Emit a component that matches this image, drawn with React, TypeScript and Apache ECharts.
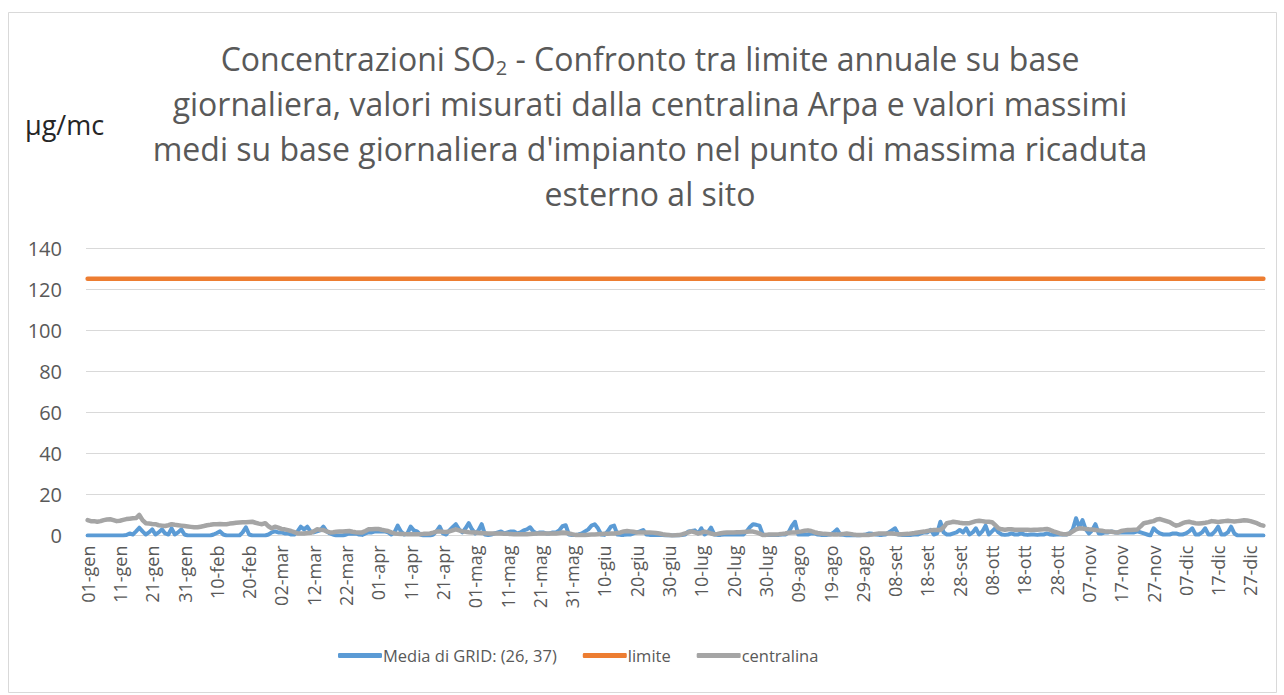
import React, { useEffect, useRef } from "react";
import * as echarts from "echarts";

const monthNames = ["gen", "feb", "mar", "apr", "mag", "giu", "lug", "ago", "set", "ott", "nov", "dic"];
const monthDays = [31, 28, 31, 30, 31, 30, 31, 31, 30, 31, 30, 31];

const seriesNames = ["Media di GRID: (26, 37)", "limite", "centralina"];
const limitValue = 125;
const yTicks = [0, 20, 40, 60, 80, 100, 120, 140];

const titleLines = [
  "giornaliera, valori misurati dalla centralina Arpa e valori massimi",
  "medi su base giornaliera d'impianto nel punto di massima ricaduta",
  "esterno al sito",
];

const grid = [
  0, 0, 0, 0, 0, 0, 0, 0, 0, 0,
  0, 0, 0.2, 1, 0.5, 2, 3.8, 2, 0.5, 1.5,
  3, 0.5, 1.5, 3, 1, 0.5, 3.5, 0.5, 1.5, 3,
  0.5, 0, 0, 0, 0, 0, 0, 0, 0, 0.5,
  1.2, 2, 0.5, 0, 0, 0, 0, 0, 1.5, 4,
  0.5, 0, 0, 0, 0, 0, 0.5, 1.5, 2, 1.5,
  1.5, 1, 1, 0.5, 0.5, 2, 4.3, 3, 4.3, 2,
  1.5, 2, 2.5, 4.3, 2, 1, 0.5, 0, 0, 0,
  0.5, 1, 0.8, 1, 0.5, 0.3, 1, 1.5, 1.5, 2,
  2, 2, 2, 1.5, 0.5, 1.5, 4.8, 2, 0.5, 1,
  4.3, 2.5, 2, 0.5, 0, 0, 0, 0.5, 2, 4.3,
  1, 0.5, 2.5, 4, 5.5, 3, 1.5, 3.5, 6, 3,
  1, 2.5, 5.5, 0.5, 0.2, 0.5, 1, 1.5, 2, 1,
  1.5, 2, 2, 1, 1.5, 2.5, 3, 4, 2, 1,
  1.5, 1.5, 1, 1, 1.5, 1.5, 2.5, 4.5, 5, 0.5,
  0.2, 0.2, 0.5, 1, 2, 3, 4.8, 5.5, 3.5, 0.5,
  0.3, 2, 4.3, 4.8, 0.5, 0.3, 0.3, 0.5, 0.5, 1,
  1.5, 2, 2.7, 0.5, 0.3, 0.2, 0.2, 0.2, 0.2, 0,
  0, 0, 0, 0, 0.2, 0.5, 2, 2.2, 2.5, 1,
  3.5, 0.5, 1.5, 3.8, 0.5, 0.3, 0.3, 0.5, 0.5, 0.5,
  0.5, 0.5, 0.5, 0.5, 2, 4, 5.5, 5.2, 4.8, 0.5,
  0.3, 0.3, 0.3, 0.3, 0.3, 0.5, 0.5, 1.5, 4.5, 6.7,
  0.5, 0.5, 0.5, 0.5, 1, 1, 0.5, 0.3, 0.3, 0.3,
  0.5, 1.5, 3, 0.5, 0.3, 0, 0, 0, 0, 0,
  0.3, 0.5, 1, 0.8, 0.5, 0.3, 0.3, 0.5, 1.5, 2.5,
  3.5, 0.5, 0.3, 0.2, 0.2, 0.3, 0.5, 0.5, 1, 1.5,
  1.5, 2.7, 0.5, 1, 6.7, 1.5, 0.5, 0.5, 1, 1.5,
  2.7, 1.5, 3.5, 0.5, 1.5, 3.5, 0.5, 2, 4.8, 0.5,
  2, 3.5, 1.5, 0.5, 0.3, 0.5, 1, 0.5, 0.5, 1,
  0.5, 0.3, 0.5, 0.5, 0.3, 0.5, 0.5, 1, 0.5, 0.3,
  0.5, 0.5, 0.5, 0.5, 1, 3, 8.4, 4, 7.5, 3,
  1, 2.5, 5.5, 1, 1, 1.5, 1.5, 2, 1.5, 1.5,
  1.5, 1.5, 1.5, 1.5, 1.5, 2, 1.5, 1, 0.5, 0,
  3.5, 2, 1, 0.5, 0.5, 0.5, 1, 1, 0.5, 0.5,
  1, 2, 3.5, 0.5, 0.5, 1.5, 3.5, 0.5, 0.5, 2,
  4.3, 0.5, 0.5, 1.5, 4.3, 1, 0, 0, 0, 0,
  0, 0, 0, 0, 0,
];

const centralina = [
  7.5, 7, 7, 6.7, 7, 7.5, 7.8, 7.9, 7.5, 7,
  7.2, 7.6, 8, 8.2, 8.4, 8.5, 10, 7.5, 6, 5.8,
  5.6, 5.5, 5, 4.8, 4.6, 5, 5.5, 5.2, 5, 4.8,
  4.6, 4.4, 4.2, 4, 4, 4.3, 4.6, 5, 5.2, 5.5,
  5.5, 5.6, 5.5, 5.5, 5.8, 6, 6.2, 6.3, 6.4, 6.5,
  6.6, 6.7, 6.2, 5.8, 5.5, 6, 4.5, 3.5, 4.3, 3.8,
  3.2, 3, 2.6, 2.2, 1.6, 1, 1, 1, 1.2, 1.3,
  2, 3, 2.8, 2.7, 2, 1.5, 1.6, 1.8, 1.9, 2,
  2.1, 2.2, 1.8, 1.6, 1.5, 1.5, 2.2, 3, 3.1, 3.2,
  3.2, 2.8, 2.5, 2.2, 1.5, 1, 0.8, 0.7, 0.7, 0.6,
  0.6, 0.6, 0.6, 0.6, 0.8, 0.9, 1, 1.4, 1.9, 2,
  1.8, 1.7, 2, 2.5, 3, 2.5, 2, 1.8, 1.6, 1.5,
  1.5, 1.3, 1.2, 1.1, 1, 1, 1, 1, 1, 0.9,
  0.8, 0.7, 0.6, 0.6, 0.6, 0.6, 0.6, 0.7, 0.8, 1,
  1, 1, 1, 1, 1, 1, 1.2, 1.5, 1.3, 1,
  0.6, 0.3, 0.2, 0.2, 0.3, 0.4, 0.5, 0.5, 0.6, 0.7,
  0.8, 0.8, 1, 1, 1.2, 1.5, 2, 2.2, 2, 1.8,
  1.5, 1.5, 1.5, 1.5, 1.5, 1.4, 1.2, 1, 0.6, 0.4,
  0.2, 0, 0.1, 0.2, 0.5, 1, 1.5, 2, 1.5, 1,
  1.4, 1.9, 1.5, 1, 0.6, 0.8, 1.1, 1.3, 1.5, 1.5,
  1.5, 1.6, 1.6, 1.7, 1.8, 1.9, 1.9, 1.5, 1, 0.2,
  0.3, 0.5, 0.5, 0.5, 0.6, 0.8, 1, 1.3, 1.5, 1.5,
  1.8, 2, 2.3, 2.5, 2.2, 1.6, 1.2, 1, 0.8, 0.7,
  0.6, 0.5, 0.5, 0.6, 0.8, 1, 0.8, 0.5, 0.3, 0.2,
  0.2, 0.2, 0.3, 0.5, 0.8, 1, 1, 1, 1, 1,
  0.8, 0.6, 0.6, 0.7, 0.8, 1, 1.2, 1.5, 1.7, 1.9,
  2.2, 2.5, 2.7, 2.7, 2.7, 4, 6, 6.3, 6.7, 6.5,
  6.2, 6, 6, 6, 6.5, 7, 7.2, 7, 6.7, 6.7,
  6.5, 5, 3.5, 3, 2.8, 3, 3, 2.8, 2.8, 2.8,
  2.8, 2.8, 2.7, 2.8, 2.8, 2.9, 3, 3.2, 2.7, 2,
  1.5, 1, 0.6, 0.6, 1, 2, 3, 3.5, 3.4, 3.2,
  3, 2.9, 2.7, 2.5, 2.3, 2, 1.9, 1.8, 1.6, 1.5,
  2.2, 2.5, 2.7, 2.7, 2.8, 2.9, 4.5, 6, 6.3, 6.7,
  7, 7.8, 8, 7.5, 7, 6.5, 5.5, 4.8, 5.2, 6,
  6.5, 6.7, 6.3, 6, 5.8, 6, 6.2, 6.5, 7, 6.8,
  6.6, 6.8, 7, 7.2, 7, 6.8, 7, 7.2, 7.4, 7.3,
  7, 6.5, 6, 5.2, 4.8,
];

const categories: string[] = [];
monthNames.forEach((m, mi) => {
  for (let d = 1; d <= monthDays[mi]; d++) {
    categories.push(String(d).padStart(2, "0") + "-" + m);
  }
});
const limite = categories.map(() => limitValue);

export default function App() {
  const ref = useRef<HTMLDivElement>(null);
  useEffect(() => {
    if (!ref.current) return;
    const chart = echarts.init(ref.current, undefined, { renderer: "svg" });
    const font = "'Open Sans', 'Noto Sans', sans-serif";
    chart.setOption({
      animation: false,
      backgroundColor: "#ffffff",
      textStyle: { fontFamily: font },
      grid: { left: 86, right: 19, top: 248, bottom: 159.5, containLabel: false },
      graphic: [
        {
          type: "rect",
          shape: { x: 8.5, y: 12.5, width: 1268, height: 680 },
          style: { fill: "none", stroke: "#d9d9d9", lineWidth: 1 },
          silent: true,
        },
        {
          type: "text",
          x: 650,
          y: 58,
          style: {
            text: "{a|Concentrazioni SO}{s|2}{a| - Confronto tra limite annuale su base}",
            textAlign: "center",
            textVerticalAlign: "middle",
            fontFamily: font,
            rich: {
              a: { fontSize: 32, fill: "#595959", fontFamily: font },
              s: { fontSize: 20, fill: "#595959", fontFamily: font, padding: [19, 0, 0, 0] },
            },
          },
        },
        ...titleLines.map((t, i) => ({
          type: "text",
          x: 650,
          y: 103 + i * 45,
          style: {
            text: t,
            textAlign: "center",
            textVerticalAlign: "middle",
            fontSize: 32,
            fill: "#595959",
            fontFamily: font,
          },
        })),
        {
          type: "text",
          x: 25,
          y: 124,
          style: {
            text: "µg/mc",
            textAlign: "left",
            textVerticalAlign: "middle",
            fontSize: 27,
            fill: "#262626",
            fontFamily: font,
          },
        },
      ],
      legend: {
        bottom: 26,
        left: 333,
        itemWidth: 44,
        itemHeight: 5,
        itemGap: 26,
        icon: "roundRect",
        textStyle: { fontSize: 16.5, color: "#595959", fontFamily: font, padding: [0, 0, 0, -4] },
        data: seriesNames,
      },
      xAxis: {
        type: "category",
        data: categories,
        boundaryGap: true,
        axisLine: { show: true, lineStyle: { color: "#d9d9d9", width: 1 } },
        axisTick: { show: false },
        axisLabel: {
          interval: 9,
          rotate: 90,
          margin: 10,
          fontSize: 18,
          color: "#595959",
          fontFamily: font,
        },
        splitLine: { show: false },
      },
      yAxis: {
        type: "value",
        min: yTicks[0],
        max: yTicks[yTicks.length - 1],
        interval: 20,
        axisLine: { show: false },
        axisTick: { show: false },
        axisLabel: { fontSize: 20, color: "#595959", margin: 24, fontFamily: font },
        splitLine: { lineStyle: { color: "#d9d9d9", width: 1 } },
      },
      series: [
        {
          name: seriesNames[0],
          type: "line",
          data: grid,
          showSymbol: false,
          symbol: "none",
          lineStyle: { color: "#5B9BD5", width: 4, join: "round", cap: "round" },
          itemStyle: { color: "#5B9BD5" },
        },
        {
          name: seriesNames[1],
          type: "line",
          data: limite,
          showSymbol: false,
          symbol: "none",
          lineStyle: { color: "#ED7D31", width: 4.5, cap: "round" },
          itemStyle: { color: "#ED7D31" },
        },
        {
          name: seriesNames[2],
          type: "line",
          data: centralina,
          showSymbol: false,
          symbol: "none",
          lineStyle: { color: "#A5A5A5", width: 4.5, join: "round", cap: "round" },
          itemStyle: { color: "#A5A5A5" },
        },
      ],
    });
    return () => chart.dispose();
  }, []);
  return (
    <div
      ref={ref}
      style={{ position: "absolute", left: 0, top: 0, width: 1284, height: 695 }}
    />
  );
}
